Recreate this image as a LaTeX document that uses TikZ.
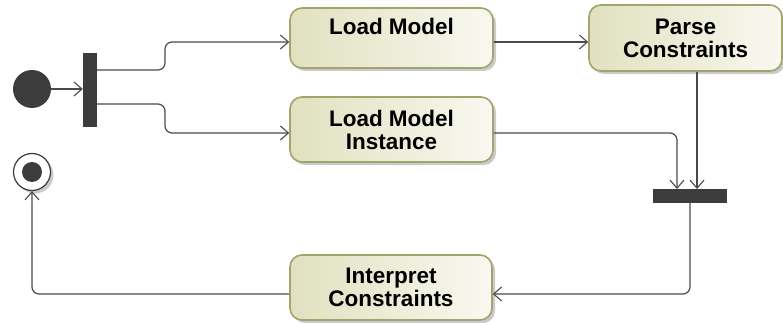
\documentclass[tikz,border=0pt]{standalone}
\usepackage{fontspec}
\setmainfont{Liberation Sans}
\usetikzlibrary{arrows.meta,shadows,calc}
\definecolor{boxL}{HTML}{E1E1C0}
\definecolor{boxR}{HTML}{F8F8F0}
\definecolor{boxB}{HTML}{A3A36C}
\definecolor{dark}{HTML}{3C3C3C}
\definecolor{wire}{HTML}{4A4A4A}
\tikzset{
  action/.style={draw=boxB, line width=1.6pt, rounded corners=12pt,
    left color=boxL, right color=boxR, shading angle=90,
    drop shadow={shadow xshift=3pt, shadow yshift=-3pt, opacity=0.35, fill=black!60},
    align=center, font=\fontsize{22.5}{23}\selectfont\bfseries, inner sep=0pt},
  bar/.style={fill=dark, draw=none, inner sep=0pt},
  flow/.style={draw=wire, line width=1.2pt, rounded corners=7pt,
    -{Straight Barb[length=8pt,width=14pt,line width=1.1pt]}},
}
\begin{document}
\begin{tikzpicture}[x=1pt,y=-1pt]
\useasboundingbox (0,0) rectangle (783,323);
% nodes
\node[circle, fill=dark, minimum size=38pt, inner sep=0pt] (init) at (32,89) {};
\node[bar, minimum width=14pt, minimum height=74pt] (fork) at (90,90) {};
\node[action, minimum width=203pt, minimum height=60pt] (lm) at (391.5,38) {Load Model\\[-7pt]\strut};
\node[action, minimum width=193pt, minimum height=66pt] (pc) at (685.5,38) {Parse\\Constraints};
\node[action, minimum width=203pt, minimum height=65pt] (lmi) at (391.5,129.5) {Load Model\\Instance};
\node[bar, minimum width=74pt, minimum height=14pt] (join) at (690,196) {};
\node[action, minimum width=202pt, minimum height=65pt] (ic) at (391,287.5) {Interpret\\Constraints};
\node[circle, draw=dark, line width=1.2pt, fill=white, minimum size=37pt, inner sep=0pt,
  drop shadow={shadow xshift=3pt, shadow yshift=-3pt, opacity=0.35, fill=black!60}] (final) at (32,172) {};
\node[circle, fill=dark, minimum size=20pt, inner sep=0pt] (finalin) at (final.center) {};
% helper coordinates
\coordinate (f1) at (97,70);
\coordinate (f2) at (97,104);
\coordinate (pcout) at (697,72);
\coordinate (jin1) at (677,189);
\coordinate (jin2) at (697,189);
\coordinate (jout) at (690,203);
% connectors
\draw[flow] (init.east) -- (fork.west |- init.east);
\draw[flow] (f1) -- (165,70) -- (165,42) -- (lm.west |- 0,42);
\draw[flow] (f2) -- (165,104) -- (165,133) -- (lmi.west |- 0,133);
\draw[flow] (lm.east |- 0,42) -- (pc.west |- 0,42);
\draw[flow] (pcout) -- (jin2);
\draw[flow] (lmi.east |- 0,133) -- (677,133) -- (jin1);
\draw[flow] (jout) -- (690,294) -- (ic.east |- 0,294);
\draw[flow] (ic.west |- 0,294) -- (32,294) -- (final.south);
\end{tikzpicture}
\end{document}
